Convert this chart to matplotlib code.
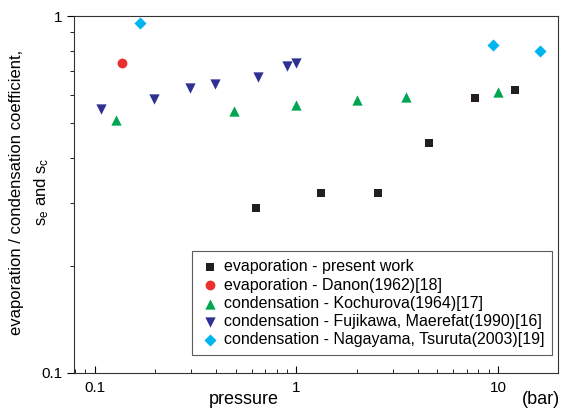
import numpy as np
import matplotlib.pyplot as plt
from matplotlib.ticker import LogLocator, NullFormatter, FixedLocator

plt.rcParams['font.family'] = ['Liberation Sans', 'DejaVu Sans']

# evaporation - present work
p_present = [0.63, 1.33, 2.53, 4.54, 7.7, 12.2]
s_present = [0.290, 0.319, 0.319, 0.441, 0.589, 0.621]

# evaporation - Danon
p_danon = [0.137]
s_danon = [0.740]

# condensation - Kochurova
p_koch = [0.128, 0.493, 1.0, 2.0, 3.5, 10.0]
s_koch = [0.511, 0.542, 0.562, 0.583, 0.593, 0.612]

# condensation - Fujikawa, Maerefat
p_fuji = [0.107, 0.197, 0.297, 0.395, 0.645, 0.895, 1.0]
s_fuji = [0.549, 0.587, 0.627, 0.646, 0.676, 0.726, 0.737]

# condensation - Nagayama, Tsuruta
p_naga = [0.167, 9.4, 16.1]
s_naga = [0.958, 0.831, 0.800]

fig = plt.figure(figsize=(5.61, 4.11), dpi=100)
ax = fig.add_axes([0.132, 0.0925, 0.863, 0.8685])

ax.scatter(p_present, s_present, marker='s', s=34, color='#231f20', lw=0,
           label='evaporation - present work')
ax.scatter(p_danon, s_danon, marker='o', s=50, color='#ed2e2e', lw=0,
           label='evaporation - Danon(1962)[18]')
ax.scatter(p_koch, s_koch, marker='^', s=55, color='#00a651', lw=0,
           label='condensation - Kochurova(1964)[17]')
ax.scatter(p_fuji, s_fuji, marker='v', s=55, color='#2e3192', lw=0,
           label='condensation - Fujikawa, Maerefat(1990)[16]')
ax.scatter(p_naga, s_naga, marker='D', s=38, color='#00b4f0', lw=0,
           label='condensation - Nagayama, Tsuruta(2003)[19]')

ax.set_xscale('log')
ax.set_yscale('log')
ax.set_xlim(0.079, 19.9)
ax.set_ylim(0.1, 1)

ax.xaxis.set_major_locator(FixedLocator([0.1, 1, 10]))
ax.xaxis.set_minor_locator(LogLocator(base=10, subs=np.arange(2, 10)))
ax.xaxis.set_minor_formatter(NullFormatter())
ax.set_xticklabels(['0.1', '1', '10'])
ax.yaxis.set_major_locator(FixedLocator([0.1, 1]))
ax.yaxis.set_minor_locator(LogLocator(base=10, subs=np.arange(2, 10)))
ax.yaxis.set_minor_formatter(NullFormatter())
ax.set_yticklabels(['0.1', '1'])

ax.tick_params(axis='x', which='both', direction='in', labelsize=11, pad=6)
ax.tick_params(axis='x', which='major', length=5)
ax.tick_params(axis='x', which='minor', length=3)
ax.tick_params(axis='y', which='both', direction='out', labelsize=11)
ax.tick_params(axis='y', which='major', length=5)
ax.tick_params(axis='y', which='minor', length=3)
for sp in ax.spines.values():
    sp.set_color('#333333')

# y label, two lines
fig.text(17 / 561, 1 - 192 / 411, 'evaporation / condensation coefficient,',
         rotation=90, fontsize=12, ha='center', va='center')
fig.text(42 / 561, 1 - 192 / 411, '$\\mathregular{s_e}$ and $\\mathregular{s_c}$',
         rotation=90, fontsize=12, ha='center', va='center')

ax.text(0.35, -0.075, 'pressure', transform=ax.transAxes, fontsize=13,
        ha='center', va='center')
ax.text(0.965, -0.075, '(bar)', transform=ax.transAxes, fontsize=13,
        ha='center', va='center')

leg = ax.legend(loc='lower right', bbox_to_anchor=(0.988, 0.05), fontsize=11.5,
                frameon=True, fancybox=False, edgecolor='#333333',
                handletextpad=0.3, borderpad=0.5, labelspacing=0.2,
                borderaxespad=0, handlelength=1.2, scatterpoints=1)
leg.get_frame().set_linewidth(0.8)

fig.savefig('out.png', dpi=100)
